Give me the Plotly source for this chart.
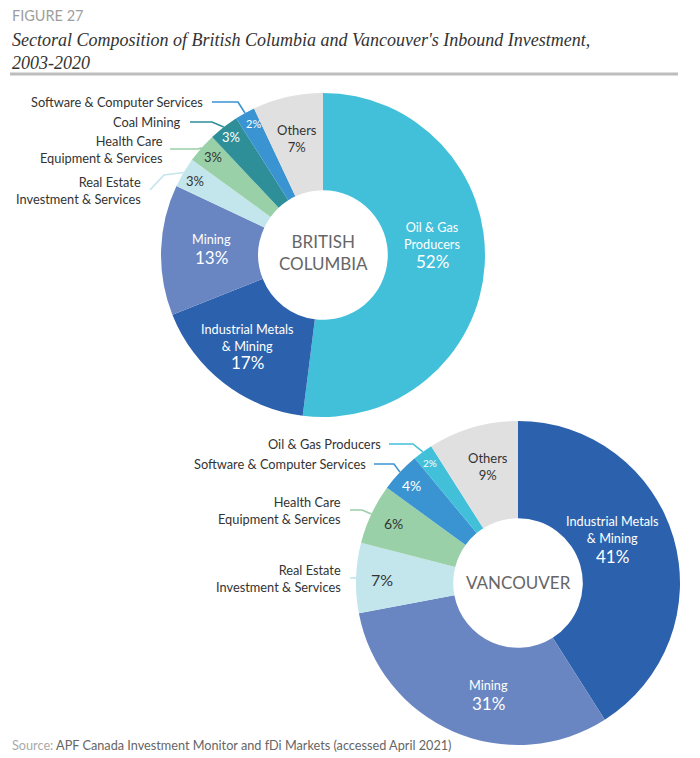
import math
import plotly.graph_objects as go

W, H = 700, 758

# ---------------- data ----------------
bc_labels = ["Oil & Gas Producers", "Industrial Metals & Mining", "Mining",
             "Real Estate Investment & Services", "Health Care Equipment & Services",
             "Coal Mining", "Software & Computer Services", "Others"]
bc_values = [52, 17, 13, 3, 3, 3, 2, 7]

van_labels = ["Industrial Metals & Mining", "Mining", "Real Estate Investment & Services",
              "Health Care Equipment & Services", "Software & Computer Services",
              "Oil & Gas Producers", "Others"]
van_values = [41, 31, 7, 6, 4, 2, 9]

# ---------------- styles ----------------
COLORS = {
    "Oil & Gas Producers": "#42C0DA",
    "Industrial Metals & Mining": "#2C62AD",
    "Mining": "#6A86C2",
    "Real Estate Investment & Services": "#C3E5EC",
    "Health Care Equipment & Services": "#99D0A8",
    "Coal Mining": "#2F8F99",
    "Software & Computer Services": "#3B94D2",
    "Others": "#E0E0E0",
}
SHORT = {
    "Oil & Gas Producers": "Oil & Gas<br>Producers",
    "Industrial Metals & Mining": "Industrial Metals<br>& Mining",
    "Mining": "Mining",
    "Others": "Others",
}
OUT_TEXT = {
    "Software & Computer Services": "Software & Computer Services",
    "Coal Mining": "Coal Mining",
    "Health Care Equipment & Services": "Health Care<br>Equipment & Services",
    "Real Estate Investment & Services": "Real Estate<br>Investment & Services",
    "Oil & Gas Producers": "Oil & Gas Producers",
}
FONT = "Lato"
DARK = "#333333"
WHITE = "#FFFFFF"

def X(px):
    return px / W

def Y(py):
    return 1 - py / H

charts = [
    dict(labels=bc_labels, values=bc_values, cx=323, cy=255, R=162,
         center="BRITISH<br>COLUMBIA", center_y=252,
         inside=[  # (category, x, y, kind, colour, pct size, name y, pct y)
             ("Oil & Gas Producers", 432, None, True, WHITE, 17, 235, 261),
             ("Industrial Metals & Mining", 248, None, True, WHITE, 17, 337, 363),
             ("Mining", 211, None, True, WHITE, 17, 239, 257),
             ("Real Estate Investment & Services", 195, 181, False, DARK, 13, None, None),
             ("Health Care Equipment & Services", 213, 157, False, DARK, 13, None, None),
             ("Coal Mining", 231, 137, False, WHITE, 13, None, None),
             ("Software & Computer Services", 253, 123, False, WHITE, 11, None, None),
             ("Others", 297, 139, "stack", DARK, 13, None, None),
         ],
         outside=[  # (category, text right x, text y, line points)
             ("Software & Computer Services", 205, 102, [(212, 102), (238, 102)]),
             ("Coal Mining", 183, 122, [(190, 122), (212, 122)]),
             ("Health Care Equipment & Services", 165, 149, [(170, 149), (198, 149)]),
             ("Real Estate Investment & Services", 143, 190, [(150, 190), (164, 175)]),
         ]),
    dict(labels=van_labels, values=van_values, cx=518, cy=583, R=162,
         center="VANCOUVER", center_y=582,
         inside=[
             ("Industrial Metals & Mining", 612, None, True, WHITE, 17, 529, 556),
             ("Mining", 488, None, True, WHITE, 17, 685, 703),
             ("Real Estate Investment & Services", 382, 579, False, DARK, 16, None, None),
             ("Health Care Equipment & Services", 393, 523, False, DARK, 14, None, None),
             ("Software & Computer Services", 411, 485, False, WHITE, 14, None, None),
             ("Oil & Gas Producers", 430, 463, False, WHITE, 10, None, None),
             ("Others", 488, 466, "stack", DARK, 13, None, None),
         ],
         outside=[
             ("Oil & Gas Producers", 383, 444, [(389, 444), (413, 444)]),
             ("Software & Computer Services", 368, 464, [(374, 464), (394, 464)]),
             ("Health Care Equipment & Services", 343, 510, [(350, 510), (362, 510)]),
             ("Real Estate Investment & Services", 343, 578, [(350, 578)]),
         ]),
]

fig = go.Figure()
annotations = []
shapes = []

for ch in charts:
    cx, cy, R = ch["cx"], ch["cy"], ch["R"]
    fig.add_trace(go.Pie(
        labels=ch["labels"], values=ch["values"], hole=0.4, sort=False,
        direction="clockwise", rotation=0, textinfo="none", hoverinfo="label+percent",
        marker=dict(colors=[COLORS[l] for l in ch["labels"]], line=dict(width=0)),
        domain=dict(x=[X(cx - R), X(cx + R)], y=[Y(cy + R), Y(cy - R)]),
        showlegend=False,
    ))
    total = sum(ch["values"])
    val = dict(zip(ch["labels"], ch["values"]))

    annotations.append(dict(x=X(cx), y=Y(ch["center_y"]), text=ch["center"], showarrow=False,
                            font=dict(family=FONT, size=17, color="#666666"),
                            xanchor="center", yanchor="middle"))

    for cat, x, y, kind, col, psize, ny, py in ch["inside"]:
        pct = f"{val[cat]}%"
        if kind is True:
            annotations.append(dict(x=X(x), y=Y(ny), text=SHORT[cat], showarrow=False,
                                    font=dict(family=FONT, size=12.7, color=col),
                                    xanchor="center", yanchor="middle"))
            annotations.append(dict(x=X(x), y=Y(py), text=pct, showarrow=False,
                                    font=dict(family=FONT, size=psize, color=col),
                                    xanchor="center", yanchor="middle"))
        elif kind == "stack":
            annotations.append(dict(x=X(x), y=Y(y), text=f"{SHORT[cat]}<br>{pct}", showarrow=False,
                                    font=dict(family=FONT, size=psize, color=col),
                                    xanchor="center", yanchor="middle"))
        else:
            annotations.append(dict(x=X(x), y=Y(y), text=pct, showarrow=False,
                                    font=dict(family=FONT, size=psize, color=col),
                                    xanchor="center", yanchor="middle"))

    for cat, tx, ty, pts in ch["outside"]:
        idx = ch["labels"].index(cat)
        frac = (sum(ch["values"][:idx]) + ch["values"][idx] / 2) / total
        th = 2 * math.pi * frac
        ex, ey = cx + R * math.sin(th), cy - R * math.cos(th)
        allp = pts + [(ex, ey)]
        path = "M " + " L ".join(f"{X(a):.5f},{Y(b):.5f}" for a, b in allp)
        shapes.append(dict(type="path", xref="paper", yref="paper", path=path,
                           line=dict(color=COLORS[cat], width=1.6)))
        annotations.append(dict(x=X(tx), y=Y(ty), text=OUT_TEXT[cat], showarrow=False,
                                font=dict(family=FONT, size=12.8, color=DARK),
                                xanchor="right", yanchor="middle", align="right"))

# header / footer
annotations.append(dict(x=X(10), y=Y(16), text="FIGURE 27", showarrow=False,
                        font=dict(family=FONT, size=14.5, color="#9E9E9E"),
                        xanchor="left", yanchor="middle"))
annotations.append(dict(x=X(10), y=Y(51),
                        text="<i>Sectoral Composition of British Columbia and Vancouver's Inbound Investment,<br>2003-2020</i>",
                        showarrow=False, align="left",
                        font=dict(family="Liberation Serif", size=18, color="#333333"),
                        xanchor="left", yanchor="middle"))
annotations.append(dict(x=X(10), y=Y(745),
                        text="<span style='color:#AAAAAA'>Source:</span> APF Canada Investment Monitor and fDi Markets (accessed April 2021)",
                        showarrow=False, font=dict(family=FONT, size=12.7, color="#666666"),
                        xanchor="left", yanchor="middle"))
shapes.append(dict(type="line", xref="paper", yref="paper", x0=X(10), x1=X(678), y0=Y(74), y1=Y(74),
                   line=dict(color="#BDBDBD", width=3)))

fig.update_layout(width=W, height=H, margin=dict(l=0, r=0, t=0, b=0),
                  paper_bgcolor="white", plot_bgcolor="white",
                  annotations=annotations, shapes=shapes)

fig.write_html("out.html", config={"displayModeBar": False},
               post_script="document.body.style.margin='0';document.body.style.overflow='hidden';")
